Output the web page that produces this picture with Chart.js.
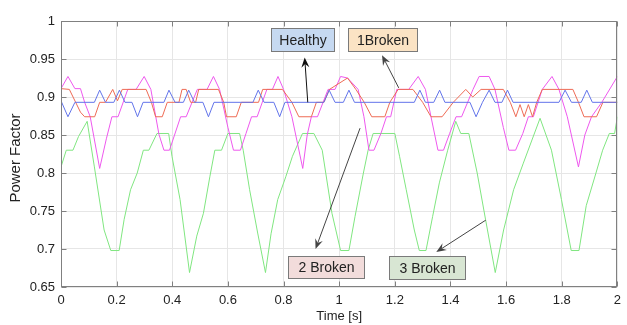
<!DOCTYPE html>
<html>
<head>
<meta charset="utf-8">
<script src="https://cdn.jsdelivr.net/npm/chart.js@4.4.0/dist/chart.umd.min.js"></script>
<style>
    html, body { margin: 0; padding: 0; background: #fff; }
    #wrap { width: 627px; height: 325px; }
</style>
</head>
<body>
<div id="wrap"><canvas id="pf-chart"></canvas></div>
<script>
// time [s] and power factor, one pair of arrays per case
const healthyT = [0, 0.025, 0.05, 0.12, 0.139, 0.16, 0.19, 0.21, 0.23, 0.255, 0.275, 0.295, 0.37, 0.388, 0.41, 0.44, 0.459, 0.48,
    0.51, 0.53, 0.55, 0.69, 0.709, 0.73, 0.765, 0.786, 0.805, 0.945, 0.964, 0.985, 1.015, 1.035, 1.055, 1.27, 1.29, 1.31, 1.34,
    1.361, 1.38, 1.47, 1.492, 1.515, 1.539, 1.56, 1.585, 1.605, 1.625, 1.79, 1.812, 1.835, 1.87, 1.89, 1.91, 2.0];
const healthyV = [0.895, 0.874, 0.893, 0.893, 0.909, 0.893, 0.893, 0.909, 0.893, 0.893, 0.874, 0.893, 0.893, 0.909, 0.893, 0.893, 0.909, 0.893,
    0.893, 0.874, 0.893, 0.893, 0.909, 0.893, 0.893, 0.874, 0.893, 0.893, 0.909, 0.893, 0.893, 0.909, 0.893, 0.893, 0.909, 0.893, 0.893,
    0.909, 0.893, 0.893, 0.874, 0.893, 0.909, 0.893, 0.893, 0.909, 0.893, 0.893, 0.909, 0.893, 0.893, 0.909, 0.893, 0.893];

const broken1T = [0, 0.03, 0.07, 0.085, 0.121, 0.139, 0.16, 0.186, 0.203, 0.22, 0.306, 0.325, 0.34, 0.364, 0.382, 0.424, 0.435, 0.45,
    0.466, 0.484, 0.495, 0.566, 0.585, 0.595, 0.63, 0.648, 0.71, 0.725, 0.796, 0.83, 0.855, 0.9, 0.918, 0.945, 0.965, 1.03, 1.06,
    1.09, 1.117, 1.164, 1.182, 1.212, 1.265, 1.3, 1.33, 1.37, 1.41, 1.455, 1.48, 1.51, 1.59, 1.615, 1.635, 1.65, 1.665, 1.68,
    1.695, 1.71, 1.73, 1.84, 1.86, 1.88, 1.925, 1.948, 2.0];
const broken1V = [0.911, 0.91, 0.88, 0.874, 0.874, 0.893, 0.893, 0.91, 0.895, 0.91, 0.91, 0.893, 0.874, 0.874, 0.893, 0.893, 0.91, 0.91,
    0.893, 0.893, 0.91, 0.91, 0.893, 0.874, 0.874, 0.893, 0.893, 0.91, 0.91, 0.893, 0.874, 0.874, 0.893, 0.893, 0.91, 0.925, 0.91,
    0.893, 0.874, 0.874, 0.893, 0.91, 0.91, 0.893, 0.874, 0.874, 0.893, 0.91, 0.9, 0.91, 0.91, 0.893, 0.874, 0.89, 0.874, 0.89,
    0.874, 0.893, 0.91, 0.91, 0.893, 0.874, 0.874, 0.893, 0.893];

const broken2T = [0, 0.025, 0.05, 0.07, 0.085, 0.105, 0.139, 0.163, 0.183, 0.205, 0.24, 0.27, 0.299, 0.323, 0.352, 0.37, 0.39, 0.43,
    0.45, 0.49, 0.525, 0.548, 0.57, 0.6, 0.62, 0.645, 0.665, 0.685, 0.705, 0.74, 0.76, 0.78, 0.8, 0.83, 0.869, 0.885, 0.9, 0.922,
    0.96, 0.985, 1.005, 1.03, 1.068, 1.089, 1.107, 1.125, 1.15, 1.17, 1.185, 1.207, 1.25, 1.284, 1.31, 1.33, 1.355, 1.375, 1.397,
    1.42, 1.44, 1.481, 1.503, 1.539, 1.56, 1.59, 1.61, 1.634, 1.66, 1.68, 1.698, 1.73, 1.765, 1.79, 1.82, 1.86, 1.883, 1.907,
    1.944, 2.0];
const broken2V = [0.911, 0.927, 0.911, 0.911, 0.893, 0.874, 0.806, 0.845, 0.874, 0.874, 0.91, 0.91, 0.927, 0.91, 0.851, 0.83, 0.83, 0.874,
    0.874, 0.91, 0.91, 0.927, 0.91, 0.86, 0.83, 0.83, 0.852, 0.874, 0.874, 0.91, 0.91, 0.927, 0.91, 0.874, 0.806, 0.85, 0.874, 0.874,
    0.91, 0.91, 0.927, 0.925, 0.91, 0.874, 0.83, 0.83, 0.852, 0.874, 0.874, 0.91, 0.91, 0.927, 0.91, 0.874, 0.83, 0.83, 0.852,
    0.874, 0.874, 0.91, 0.927, 0.927, 0.91, 0.86, 0.83, 0.83, 0.852, 0.874, 0.874, 0.91, 0.927, 0.91, 0.874, 0.808, 0.85, 0.874,
    0.893, 0.927];

const broken3T = [0, 0.019, 0.043, 0.063, 0.094, 0.12, 0.155, 0.179, 0.209, 0.227, 0.25, 0.274, 0.296, 0.316, 0.345, 0.387, 0.399,
    0.428, 0.462, 0.488, 0.512, 0.535, 0.553, 0.577, 0.6, 0.642, 0.655, 0.678, 0.707, 0.735, 0.755, 0.779, 0.808, 0.832, 0.868,
    0.909, 0.939, 0.974, 1.005, 1.035, 1.057, 1.087, 1.104, 1.122, 1.2, 1.217, 1.241, 1.27, 1.288, 1.312, 1.336, 1.36, 1.39,
    1.419, 1.437, 1.466, 1.496, 1.526, 1.561, 1.591, 1.627, 1.662, 1.722, 1.763, 1.799, 1.834, 1.862, 1.888, 1.923, 1.947,
    1.971, 1.99, 2.0];
const broken3V = [0.808, 0.83, 0.83, 0.848, 0.868, 0.808, 0.725, 0.698, 0.698, 0.739, 0.778, 0.8, 0.83, 0.83, 0.852, 0.852, 0.822,
    0.765, 0.669, 0.717, 0.747, 0.795, 0.83, 0.83, 0.852, 0.852, 0.83, 0.778, 0.721, 0.669, 0.72, 0.765, 0.795, 0.822, 0.852,
    0.852, 0.83, 0.747, 0.698, 0.698, 0.743, 0.8, 0.83, 0.852, 0.852, 0.822, 0.778, 0.725, 0.698, 0.698, 0.743, 0.787, 0.83,
    0.868, 0.852, 0.852, 0.8, 0.739, 0.669, 0.725, 0.778, 0.813, 0.872, 0.83, 0.765, 0.698, 0.698, 0.757, 0.8, 0.83,
    0.852, 0.852, 0.874];

const xTickLabels = ["0", "0.2", "0.4", "0.6", "0.8", "1", "1.2", "1.4", "1.6", "1.8", "2"];
const yTickLabels = ["0.65", "0.7", "0.75", "0.8", "0.85", "0.9", "0.95", "1"];

// callout boxes: [t left, t right, pf top, pf bottom], arrow tail -> head in data units
const notes = [
    { text: "Healthy", box: [0.754, 0.982, 0.991, 0.960], tail: [0.887, 0.893], head: [0.876, 0.952], fill: "#c6d9f1", arrow: "#111" },
    { text: "1Broken", box: [1.033, 1.280, 0.991, 0.960], tail: [1.214, 0.912], head: [1.154, 0.955], fill: "#fbe3c4", arrow: "#444" },
    { text: "2 Broken", box: [0.815, 1.09, 0.691, 0.662], tail: [1.075, 0.859], head: [0.915, 0.700], fill: "#f2dcdb", arrow: "#444" },
    { text: "3 Broken", box: [1.179, 1.453, 0.691, 0.661], tail: [1.527, 0.738], head: [1.349, 0.696], fill: "#d8e6d3", arrow: "#444" }
];

const FONT = "Arial, 'Liberation Sans', sans-serif";

function toPoints(ts, vs) {
    return ts.map((t, i) => { return { x: t, y: vs[i] } });
}

function drawArrow(ctx, x1, y1, x2, y2, color) {
    const ang = Math.atan2(y2 - y1, x2 - x1);
    const len = 10, half = 4;
    ctx.strokeStyle = color;
    ctx.fillStyle = color;
    ctx.lineWidth = 1;
    ctx.beginPath();
    ctx.moveTo(x1, y1);
    ctx.lineTo(x2 - Math.cos(ang) * len * 0.6, y2 - Math.sin(ang) * len * 0.6);
    ctx.stroke();
    const bx = x2 - Math.cos(ang) * len, by = y2 - Math.sin(ang) * len;
    const nx = x2 - Math.cos(ang) * len * 0.65, ny = y2 - Math.sin(ang) * len * 0.65;
    ctx.beginPath();
    ctx.moveTo(x2, y2);
    ctx.lineTo(bx - Math.sin(ang) * half, by + Math.cos(ang) * half);
    ctx.lineTo(nx, ny);
    ctx.lineTo(bx + Math.sin(ang) * half, by - Math.cos(ang) * half);
    ctx.closePath();
    ctx.fill();
}

const framePlugin = {
    id: "frame",
    afterDatasetsDraw(chart) {
        const { ctx, chartArea: a, scales } = chart;
        const l = Math.round(a.left) + 0.5, r = Math.round(a.right) - 0.5;
        const t = Math.round(a.top) + 0.5, b = Math.round(a.bottom) - 0.5;
        ctx.save();
        ctx.strokeStyle = "#808080";
        ctx.lineWidth = 1;
        ctx.strokeRect(l, t, r - l, b - t);
        ctx.beginPath();
        scales.x.ticks.forEach((tk) => {
            const px = Math.round(scales.x.getPixelForValue(tk.value)) + 0.5;
            ctx.moveTo(px, b); ctx.lineTo(px, b - 5);
            ctx.moveTo(px, t); ctx.lineTo(px, t + 5);
        });
        scales.y.ticks.forEach((tk) => {
            const py = Math.round(scales.y.getPixelForValue(tk.value)) + 0.5;
            ctx.moveTo(l, py); ctx.lineTo(l + 5, py);
            ctx.moveTo(r, py); ctx.lineTo(r - 5, py);
        });
        ctx.stroke();

        // y axis title, a little below the plot centre like the original
        ctx.translate(16, (a.top + a.bottom) / 2 + 4);
        ctx.rotate(-Math.PI / 2);
        ctx.fillStyle = "#222";
        ctx.font = "15px " + FONT;
        ctx.textAlign = "center";
        ctx.textBaseline = "middle";
        ctx.fillText("Power Factor", 0, 0);
        ctx.restore();
    },
    afterDraw(chart) {
        const { ctx, scales } = chart;
        const X = (v) => scales.x.getPixelForValue(v);
        const Y = (v) => scales.y.getPixelForValue(v);
        ctx.save();
        notes.forEach((n) => {
            drawArrow(ctx, X(n.tail[0]), Y(n.tail[1]), X(n.head[0]), Y(n.head[1]), n.arrow);
        });
        notes.forEach((n) => {
            const x1 = Math.round(X(n.box[0])) + 0.5, x2 = Math.round(X(n.box[1])) + 0.5;
            const y1 = Math.round(Y(n.box[2])) + 0.5, y2 = Math.round(Y(n.box[3])) + 0.5;
            ctx.fillStyle = n.fill;
            ctx.fillRect(x1, y1, x2 - x1, y2 - y1);
            ctx.strokeStyle = "#7a7a7a";
            ctx.lineWidth = 1;
            ctx.strokeRect(x1, y1, x2 - x1, y2 - y1);
            ctx.fillStyle = "#222";
            ctx.font = "14px " + FONT;
            ctx.textAlign = "center";
            ctx.textBaseline = "middle";
            ctx.fillText(n.text, (x1 + x2) / 2, (y1 + y2) / 2 + 1);
        });
        ctx.restore();
    }
};

function renderChart() {
    const line_style = { pointRadius: 0, borderWidth: 1, tension: 0, fill: false };

    new Chart(document.getElementById("pf-chart"), {
        type: "line",
        data: {
            datasets: [
                { label: "Healthy", data: toPoints(healthyT, healthyV), borderColor: "#6274ea", ...line_style },
                { label: "1Broken", data: toPoints(broken1T, broken1V), borderColor: "#ee6b55", ...line_style },
                { label: "2 Broken", data: toPoints(broken2T, broken2V), borderColor: "#ee58ee", ...line_style },
                { label: "3 Broken", data: toPoints(broken3T, broken3V), borderColor: "#80e680", ...line_style }
            ]
        },
        options: {
            responsive: true,
            maintainAspectRatio: false,
            animation: false,
            layout: { padding: { left: 0, top: 21, right: 4, bottom: 0 } },
            plugins: { legend: { display: false }, tooltip: { enabled: false } },
            scales: {
                x: {
                    type: "linear", min: 0, max: 2,
                    afterFit: (s) => { s.height = 38; },
                    ticks: {
                        stepSize: 0.2, padding: 6, maxRotation: 0, autoSkip: false,
                        color: "#222", font: { family: FONT, size: 13 },
                        callback: (v) => xTickLabels[Math.round(v / 0.2)]
                    },
                    grid: { color: "#e6e6e6", drawTicks: false },
                    border: { display: false },
                    title: { display: true, text: "Time [s]", color: "#222", font: { family: FONT, size: 13 }, padding: { top: 0, bottom: 1 } }
                },
                y: {
                    type: "linear", min: 0.65, max: 1,
                    afterFit: (s) => { s.width = 61; },
                    ticks: {
                        stepSize: 0.05, padding: 6, autoSkip: false,
                        color: "#222", font: { family: FONT, size: 13 },
                        callback: (v) => yTickLabels[Math.round((v - 0.65) / 0.05)]
                    },
                    grid: { color: "#e6e6e6", drawTicks: false },
                    border: { display: false }
                }
            }
        },
        plugins: [framePlugin]
    });
}

window.addEventListener("load", renderChart);
</script>
</body>
</html>
